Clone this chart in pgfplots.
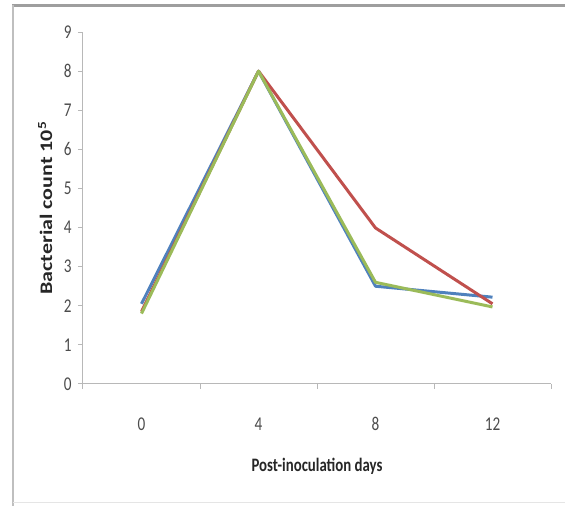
\documentclass[border=0pt]{standalone}
\usepackage{pgfplots}
\pgfplotsset{compat=1.18}
\usepackage{fontspec}
\setmainfont[FakeStretch=0.78]{Carlito}
\newfontfamily\ylfont{Carlito}
\definecolor{xblue}{HTML}{4F81BD}
\definecolor{xred}{HTML}{C0504D}
\definecolor{xgreen}{HTML}{9BBB59}
\begin{document}
\begin{tikzpicture}[x=1pt,y=1pt]
\useasboundingbox (0,0) rectangle (565,506);
\draw[line width=3pt, color=black!38] (12,500) -- (565,500);
\draw[line width=2pt, color=black!25] (13,0) -- (13,501);
\draw[line width=1pt, color=black!10] (13,3) -- (565,3);
\begin{axis}[
  at={(83pt,122pt)}, anchor=south west,
  scale only axis, width=468pt, height=352pt,
  xmin=-0.5, xmax=3.5, ymin=0, ymax=9,
  axis lines*=left,
  axis line style={-, black!28, line width=1pt},
  tick align=outside, major tick length=5pt,
  tick style={black!28, line width=1pt},
  /pgf/number format/assume math mode=true,
  ytick={0,...,9},
  yticklabels={0,1,2,3,4,5,6,7,8,9},
  xtick={-0.5,0.5,1.5,2.5,3.5},
  xticklabels={0,4,8,12,{}},
  xticklabel style={xshift=58.5pt, yshift=-25pt},
  yticklabel style={xshift=-3pt},
  tick label style={font=\fontsize{19.5}{20}\selectfont, text=black!70},
  xlabel={\bfseries Post-inoculation days},
  xlabel style={at={(axis description cs:0.5,0)}, anchor=center, yshift=-82pt, font=\fontsize{19}{20}\selectfont, text=black!85},
  ylabel={\scalebox{1}[0.8]{\ylfont\bfseries Bacterial count 10\textsuperscript{5}}},
  ylabel style={at={(axis description cs:-0.081,0.5)}, anchor=center, font=\fontsize{22}{24}\selectfont, text=black!85},
  line join=round,
]
\addplot[color=xblue, line width=3pt] coordinates {(0,2.05) (1,8) (2,2.5) (3,2.22)};
\addplot[color=xred, line width=3pt] coordinates {(0,1.85) (1,8) (2,3.99) (3,2.05)};
\addplot[color=xgreen, line width=3pt] coordinates {(0,1.8) (1,8) (2,2.6) (3,1.97)};
\end{axis}
\end{tikzpicture}
\end{document}
